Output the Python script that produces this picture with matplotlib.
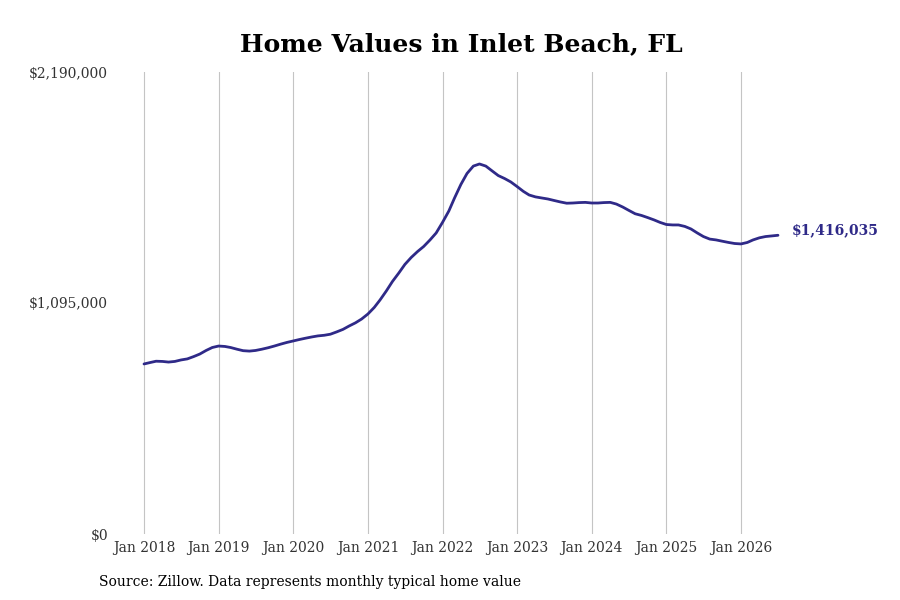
import pandas as pd
import matplotlib.pyplot as plt
import matplotlib.dates as mdates
from matplotlib.ticker import FixedLocator

# -----------------------------
# Data (monthly typical home value)
# -----------------------------
start_month = "2018-01-01"
values = [
    806000, 813000, 819000, 818000, 815000, 818000, 825000, 830000, 841000, 853000, 870000, 884000,
    891000, 889000, 884000, 876000, 869000, 867000, 870000, 876000, 883000, 891000, 900000, 908000,
    915000, 922000, 928000, 934000, 939000, 942000, 947000, 958000, 970000, 986000, 1001000, 1019000,
    1043000, 1074000, 1109000, 1152000, 1197000, 1237000, 1278000, 1311000, 1339000, 1363000, 1394000, 1427000,
    1477000, 1531000, 1593000, 1657000, 1709000, 1744000, 1754000, 1744000, 1721000, 1699000, 1685000, 1669000,
    1647000, 1624000, 1607000, 1598000, 1593000, 1588000, 1581000, 1574000, 1568000, 1569000, 1571000, 1572000,
    1569000, 1569000, 1571000, 1572000, 1564000, 1550000, 1534000, 1518000, 1510000, 1500000, 1489000, 1477000,
    1467000, 1465000, 1465000, 1458000, 1446000, 1427000, 1410000, 1398000, 1394000, 1388000, 1382000, 1377000,
    1375000, 1382000, 1394000, 1404000, 1410000, 1413000, 1416035,
]
dates = pd.date_range(start_month, periods=len(values), freq="MS")

y_ticks = [0, 1095000, 2190000]
y_labels = ["$0", "$1,095,000", "$2,190,000"]
x_years = list(range(2018, 2027))

LINE_COLOR = "#2f2a88"

# -----------------------------
# Plot
# -----------------------------
plt.rcParams["font.family"] = ["DejaVu Serif"]

fig = plt.figure(figsize=(9, 6), dpi=100)
ax = fig.add_axes([115 / 900, 1 - 534 / 600, (785 - 115) / 900, (534 - 72) / 600])

ax.plot(dates, values, color=LINE_COLOR, linewidth=2.0, solid_capstyle="round")

# x range: Jan 2018 sits ~29px in from the left edge
d0 = mdates.date2num(pd.Timestamp("2018-01-01"))
d1 = mdates.date2num(pd.Timestamp("2026-01-01"))
px_per_day = (741 - 144) / (d1 - d0)
ax.set_xlim(d0 - 29 / px_per_day, d0 + (785 - 144) / px_per_day)
ax.set_ylim(0, 2190000)

xticks = [pd.Timestamp(f"{y}-01-01") for y in x_years]
ax.set_xticks(xticks)
ax.set_xticklabels([f"Jan {y}" for y in x_years])
ax.yaxis.set_major_locator(FixedLocator(y_ticks))
ax.set_yticklabels(y_labels)

ax.tick_params(axis="both", length=0, labelsize=10, labelcolor="#333333")
ax.tick_params(axis="x", pad=5)
ax.tick_params(axis="y", pad=5)
ax.xaxis.grid(True, color="#c4c4c4", linewidth=0.8)
ax.yaxis.grid(False)
for spine in ax.spines.values():
    spine.set_visible(False)

# end label
ax.annotate(
    f"${values[-1]:,}",
    xy=(dates[-1], values[-1]),
    xytext=(10, 3.5),
    textcoords="offset points",
    va="center",
    ha="left",
    fontsize=10,
    fontweight="bold",
    color=LINE_COLOR,
    annotation_clip=False,
)

fig.text(461 / 900, 1 - 44 / 600, "Home Values in Inlet Beach, FL",
         ha="center", va="center", fontsize=18, fontweight="bold")
fig.text(99 / 900, 1 - 582 / 600, "Source: Zillow. Data represents monthly typical home value",
         ha="left", va="center", fontsize=10)

fig.savefig("out.png", dpi=100)
